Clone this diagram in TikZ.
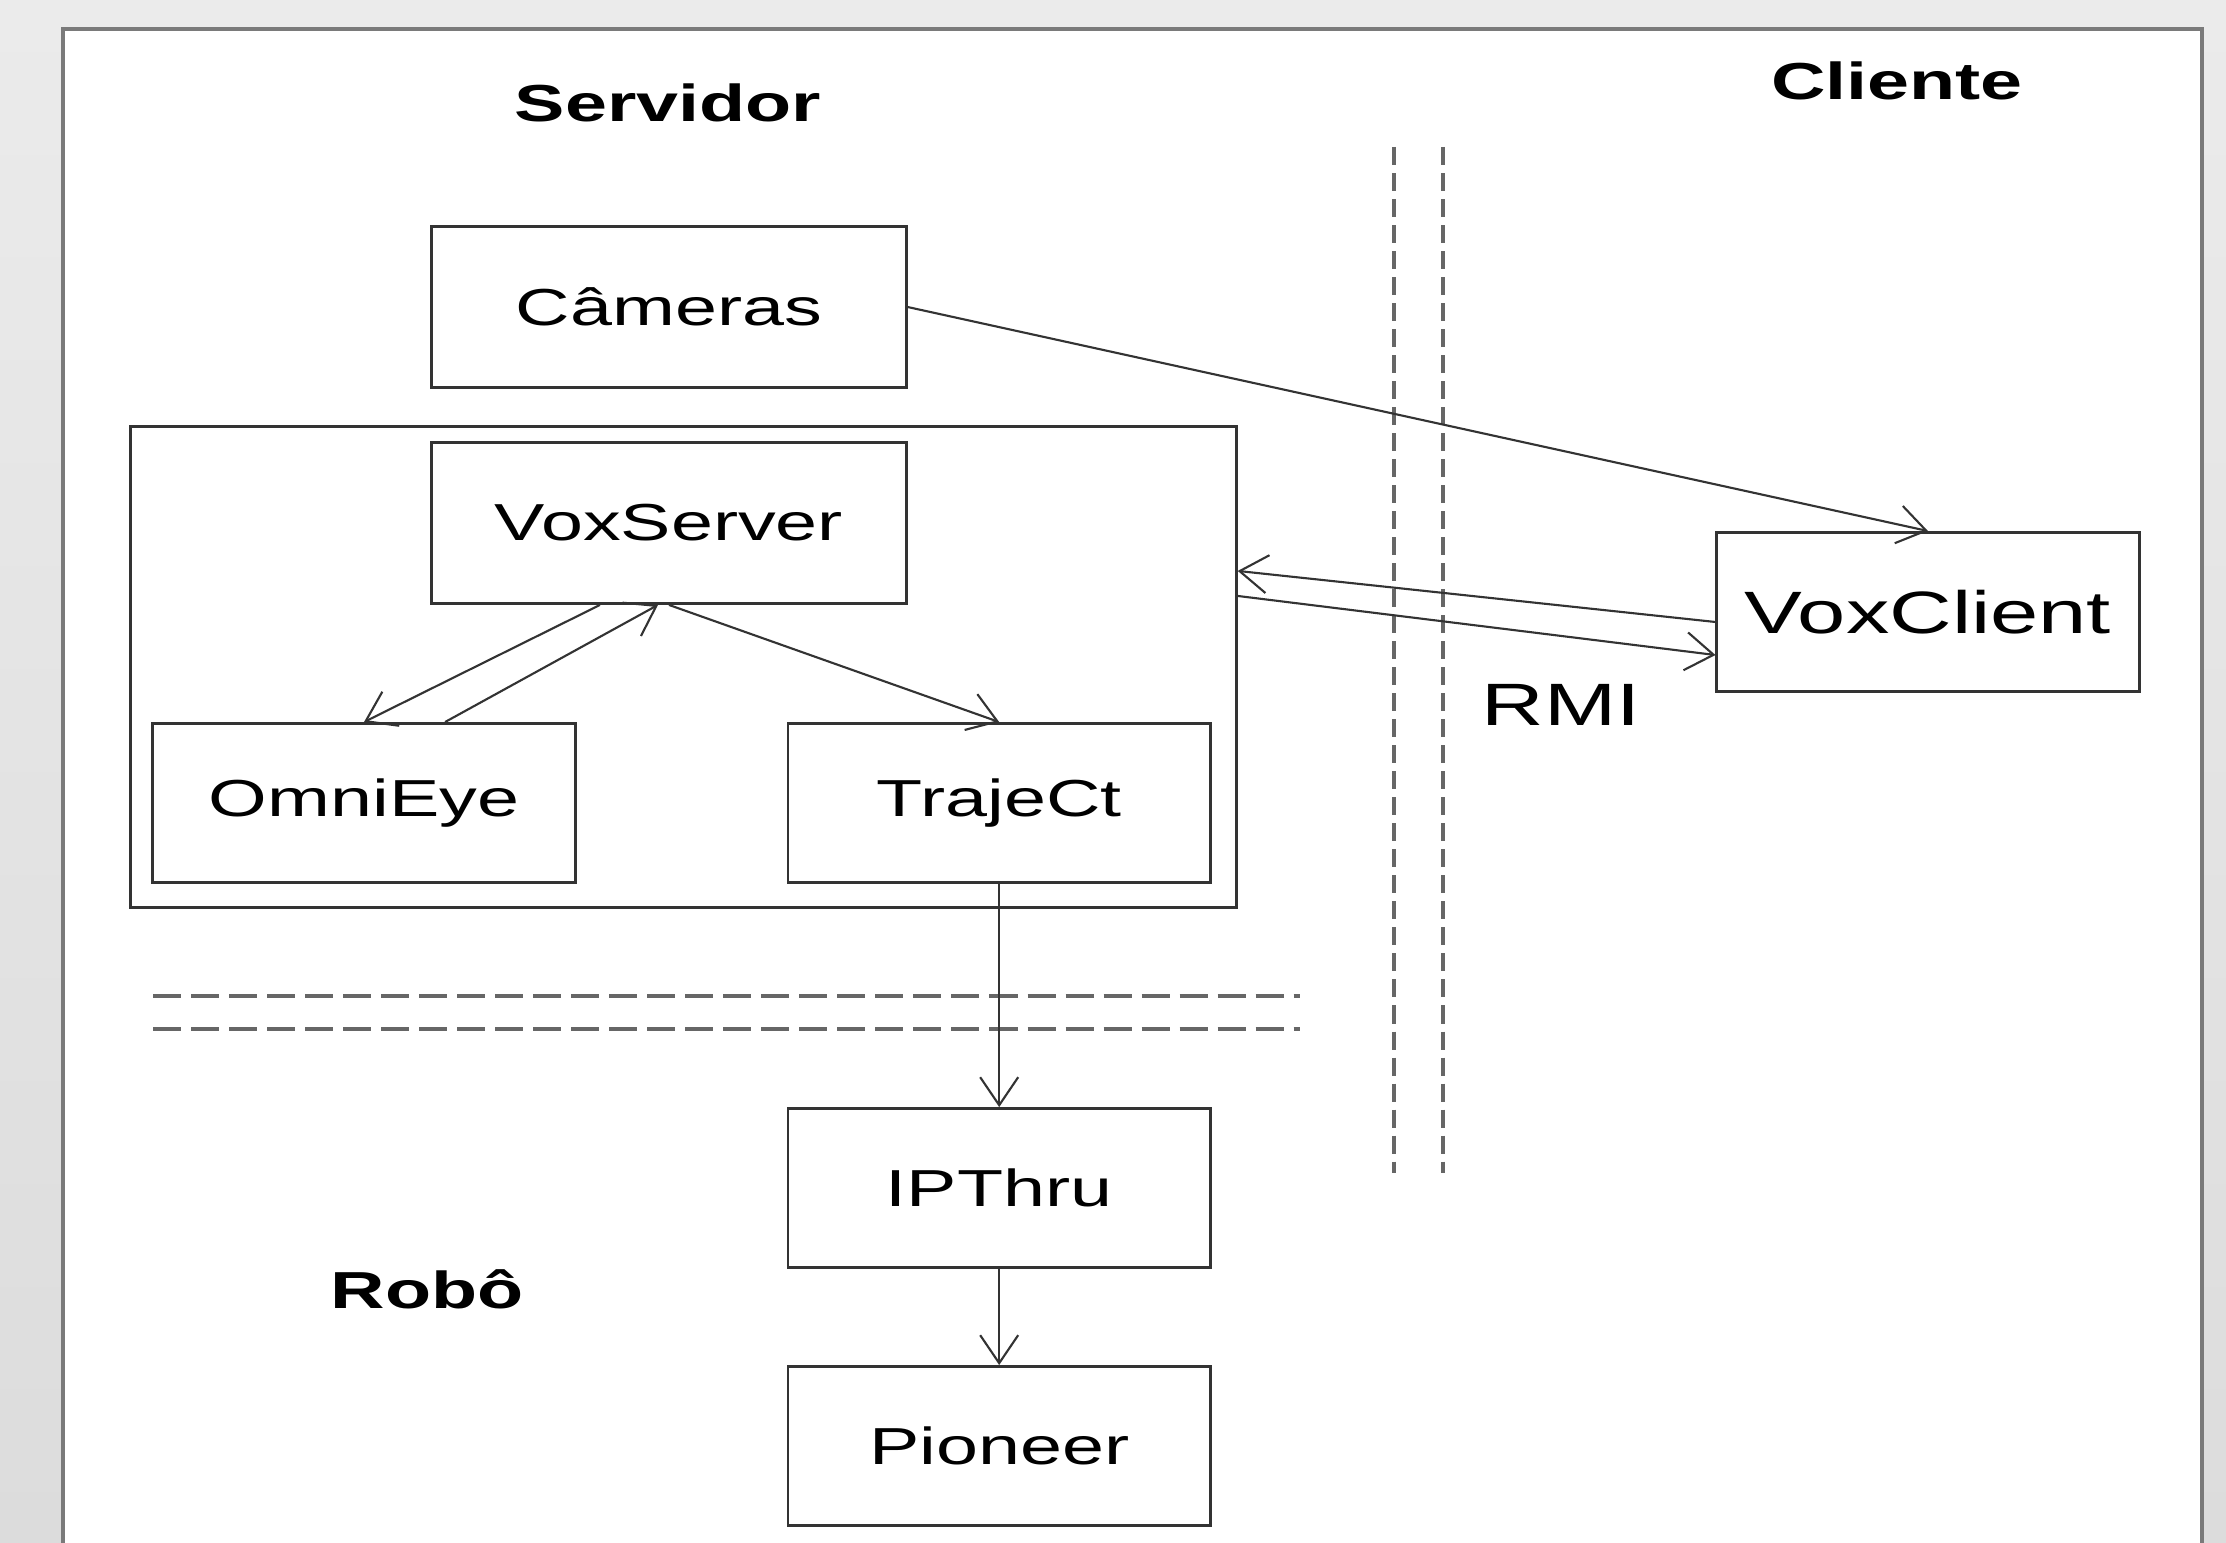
\documentclass[tikz,border=0pt]{standalone}
\usepackage{fontspec}
\setmainfont{Liberation Sans}[FakeStretch=1.45]
\usepackage{xcolor}
\usepackage{tikz}
\usetikzlibrary{arrows.meta,positioning}

\definecolor{bgtop}{HTML}{EBEBEB}
\definecolor{bgbottom}{HTML}{DCDCDC}
\definecolor{panelgray}{HTML}{7A7A7A}
\definecolor{linegray}{HTML}{333333}

\begin{document}
\begin{tikzpicture}[
    x=0.01cm, y=-0.01cm,
    box/.style={draw=linegray, line width=0.8pt, rectangle, minimum width=4.22cm,
                minimum height=1.59cm, align=center,
                font=\fontsize{14.8}{17}\selectfont},
    widebox/.style={box, minimum width=4.74cm, minimum height=1.61cm},
    title/.style={anchor=base, font=\fontsize{14.8}{17}\selectfont\bfseries},
    arrow/.style={-{Straight Barb[length=2.8mm,width=3.8mm]}, line width=0.6pt,
                  linegray},
    sep/.style={line width=0.9pt, black!60},
    node distance=0.96cm and 2.1cm
]
\useasboundingbox (0,0) rectangle (2226,1543);
\shade[top color=bgtop, bottom color=bgbottom] (0,0) rectangle (2226,1543);
\fill[white] (63,29) rectangle (2202,1543);
\draw[panelgray, line width=1.1pt] (63,1543) -- (63,29) -- (2202,29) -- (2202,1543);

\node[title] (srvlbl) at (668,122) {Servidor};
\node[title] (clilbl) at (1897,100) {Cliente};
\node[title] (robolbl) at (427,1308) {Robô};

\node[widebox] (cam) at (669,307) {Câmeras};
\node[draw=linegray, line width=0.8pt, minimum width=11.05cm,
      minimum height=4.8cm] (srv) at (683.5,667) {};
\node[widebox] (vs) at (669,523) {VoxServer};
\node[box] (omni) at (364,803) {OmniEye};
\node[box, right=of omni] (traj) {TrajeCt};
\node[box, below=2.23cm of traj] (ip) {IPThru};
\node[box, below=of ip] (pio) {Pioneer};
\node[box, font=\fontsize{17}{20}\selectfont] (vc) at (1928,612) {VoxClient};
\node[anchor=base, font=\fontsize{17}{20}\selectfont] (rmi) at (1561,726) {RMI};

\draw[sep, dash pattern=on 2.8mm off 1mm] (153,996) -- (1300,996);
\draw[sep, dash pattern=on 2.8mm off 1mm] (153,1029) -- (1300,1029);
\draw[sep, dash pattern=on 1.8mm off 0.8mm] (1394,147) -- (1394,1173);
\draw[sep, dash pattern=on 1.8mm off 0.8mm] (1443,147) -- (1443,1173);

\draw[arrow] (cam.east) -- (vc.north);
\draw[arrow] ([yshift=-1mm]vc.west) -- ([yshift=9.6mm]srv.east);
\draw[arrow] ([yshift=7.1mm]srv.east) -- ([yshift=-4.3mm]vc.west);
\draw[arrow] ([xshift=-6.9mm]vs.south) -- (omni.north);
\draw[arrow] ([xshift=8.1mm]omni.north) -- ([xshift=-1.1mm]vs.south);
\draw[arrow] (vs.south) -- (traj.north);
\draw[arrow] (traj.south) -- (ip.north);
\draw[arrow] (ip.south) -- (pio.north);
\end{tikzpicture}
\end{document}
